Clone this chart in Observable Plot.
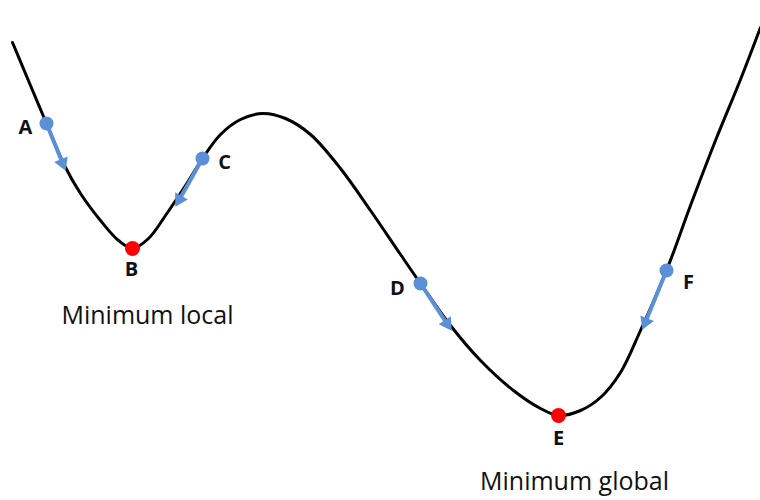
<!DOCTYPE html>
<html>
<head>
<meta charset="utf-8">
<script src="https://cdn.jsdelivr.net/npm/d3@7"></script>
<script src="https://cdn.jsdelivr.net/npm/@observablehq/plot@0.6"></script>
<style>
  html, body { margin: 0; padding: 0; background: #fff; }
  #chart svg { display: block; }
</style>
</head>
<body>
<div id="chart"></div>
<script>
// Cost curve samples (x position, y = depth from top of the diagram)
const curveX = [12, 30, 46, 64, 80, 100, 118, 132, 148, 165, 185, 202, 220, 240, 262, 285, 310, 340, 370, 400, 420, 450, 480, 513, 540, 558, 580, 600, 620, 640, 666, 690, 715, 740, 760];
const curveY = [42, 85, 123, 165, 193, 220, 240, 248, 238, 215, 185, 158, 134, 119, 113, 118, 134, 168, 210, 254, 283, 325, 360, 390, 408, 415, 410, 397, 372, 330, 270, 205, 140, 79, 27];

// Starting points (blue) with gradient-step arrow tips
const startNames = ["A", "C", "D", "F"];
const startX = [46, 202, 420, 666];
const startY = [123, 158, 283, 270];
const tipX = [65, 175, 451, 642];
const tipY = [170, 206, 330, 329];

// Minima (red)
const minNames = ["B", "E"];
const minX = [132, 558];
const minY = [248, 415];

// Point letter labels
const letterNames = ["A", "B", "C", "D", "E", "F"];
const letterX = [25, 131, 224, 397, 558, 688];
const letterY = [127, 269, 162, 288, 438, 282];

// Captions
const captionText = ["Minimum local", "Minimum global"];
const captionX = [147, 574];
const captionY = [315, 481];

const curve = curveX.map((x, i) => ({x, y: curveY[i]}));
const HEAD = 8; // centroid-to-tip distance of the arrow head
const arrows = startNames.map((name, i) => {
  const dx = tipX[i] - startX[i], dy = tipY[i] - startY[i];
  const len = Math.hypot(dx, dy);
  return {
    name,
    x1: startX[i], y1: startY[i],
    hx: tipX[i] - dx / len * HEAD, hy: tipY[i] - dy / len * HEAD,
    angle: Math.atan2(dx, -dy) * 180 / Math.PI
  };
});
const starts = startNames.map((name, i) => ({name, x: startX[i], y: startY[i]}));
const minima = minNames.map((name, i) => ({name, x: minX[i], y: minY[i]}));
const letters = letterNames.map((t, i) => ({t, x: letterX[i], y: letterY[i]}));
const captions = captionText.map((t, i) => ({t, x: captionX[i], y: captionY[i]}));

const BLUE = "#5b8fd6";
const RED = "#ff0000";
const FONT = "'Open Sans', 'Noto Sans', sans-serif";

const chart = Plot.plot({
  width: 760,
  height: 500,
  margin: 0,
  x: {domain: [0, 760], axis: null},
  y: {domain: [500, 0], axis: null},
  style: {background: "#fff"},
  marks: [
    Plot.line(curve, {x: "x", y: "y", curve: "catmull-rom", stroke: "#000", strokeWidth: 3}),
    Plot.link(arrows, {x1: "x1", y1: "y1", x2: "hx", y2: "hy", stroke: BLUE, strokeWidth: 4}),
    Plot.dot(arrows, {x: "hx", y: "hy", symbol: "triangle", r: 5.4, fill: BLUE, stroke: "none", rotate: "angle"}),
    Plot.dot(starts, {x: "x", y: "y", r: 7, fill: BLUE, stroke: "none"}),
    Plot.dot(minima, {x: "x", y: "y", r: 7.5, fill: RED, stroke: "none"}),
    Plot.text(letters, {x: "x", y: "y", text: "t", fontSize: 20, fontWeight: "bold", fill: "#111", fontFamily: FONT}),
    Plot.text(captions, {x: "x", y: "y", text: "t", fontSize: 25, fill: "#111", fontFamily: FONT})
  ]
});
document.getElementById("chart").appendChild(chart);
</script>
</body>
</html>
